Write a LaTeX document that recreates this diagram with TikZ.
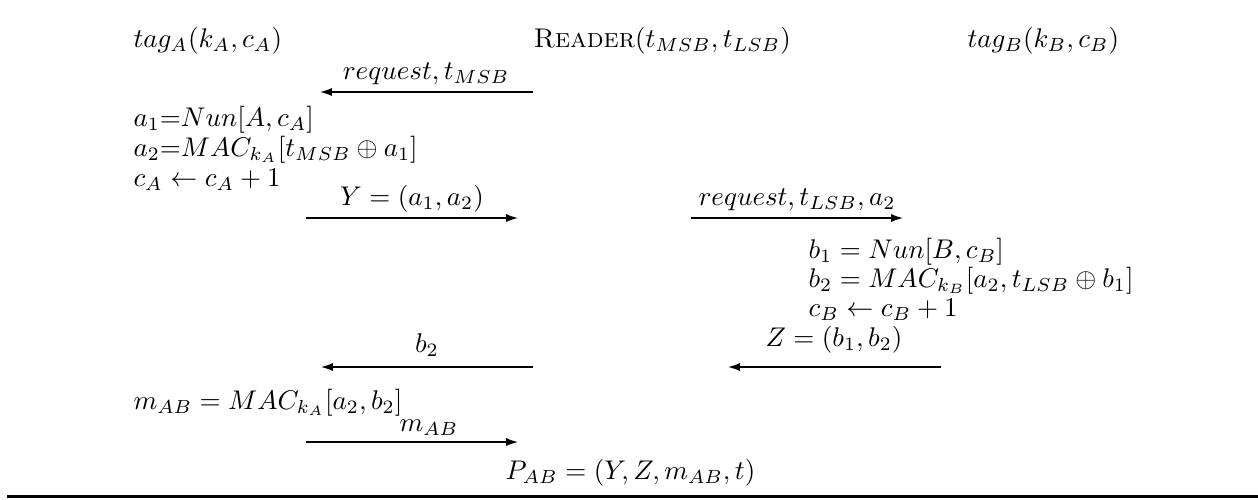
\documentclass[tikz,border=0pt]{standalone}
\usetikzlibrary{arrows.meta, positioning}

\begin{document}
\begin{tikzpicture}[
    x=0.37pt, y=-0.37pt,
    party/.style={inner sep=0pt, anchor=base west},
    calc/.style={inner sep=0pt, anchor=base west},
    lbl/.style={inner sep=0pt, anchor=base},
    msg/.style={-{Latex[length=4.4pt,width=3pt]}, line width=0.5pt},
]
\useasboundingbox (0,0) rectangle (1258,499);

% ---- parties ----
\node (tagA)   [party] at (133,47) {$tag_A(k_A,c_A)$};
\node (reader) [party] at (533,47) {\textsc{Reader}$(t_{MSB},t_{LSB})$};
\node (tagB)   [party] at (967,47) {$tag_B(k_B,c_B)$};

% ---- reader -> tag A: request ----
\coordinate (reqAs) at (533,92);
\coordinate (reqAe) at (320,92);
\node (reqAlbl) [lbl] at (426,79) {$request, t_{MSB}$};
\draw[msg] (reqAs) -- (reqAe);

% ---- tag A computes ----
\node (a1) [calc] at (133,126) {$a_1{=}Nun[A,c_A]$};
\node (a2) [calc] at (133,156) {$a_2{=}MAC_{k_A}[t_{MSB}\oplus a_1]$};
\node (cA) [calc] at (133,186) {$c_A \leftarrow c_A+1$};

% ---- tag A -> reader: Y ----
\coordinate (Ys) at (306,218);
\coordinate (Ye) at (518,218);
\node (Ylbl) [lbl] at (412,205) {$Y=(a_1,a_2)$};
\draw[msg] (Ys) -- (Ye);

% ---- reader -> tag B: request ----
\coordinate (reqBs) at (691,218);
\coordinate (reqBe) at (903,218);
\node (reqBlbl) [lbl] at (797,205) {$request, t_{LSB}, a_2$};
\draw[msg] (reqBs) -- (reqBe);

% ---- tag B computes ----
\node (b1) [calc] at (808,258) {$b_1 = Nun[B,c_B]$};
\node (b2) [calc] at (808,287) {$b_2 = MAC_{k_B}[a_2,t_{LSB}\oplus b_1]$};
\node (cB) [calc] at (808,316) {$c_B \leftarrow c_B+1$};

% ---- tag B -> reader: Z ----
\coordinate (Zs) at (941,367);
\coordinate (Ze) at (728,367);
\node (Zlbl) [lbl] at (834,346) {$Z=(b_1,b_2)$};
\draw[msg] (Zs) -- (Ze);

% ---- reader -> tag A: b2 ----
\coordinate (fwds) at (533,367);
\coordinate (fwde) at (321,367);
\node (fwdlbl) [lbl] at (427,352) {$b_2$};
\draw[msg] (fwds) -- (fwde);

% ---- tag A -> reader: m_AB ----
\node (mAB) [calc] at (133,409) {$m_{AB}=MAC_{k_A}[a_2,b_2]$};
\coordinate (ms) at (306,442);
\coordinate (me) at (518,442);
\node (mlbl) [lbl] at (429,431) {$m_{AB}$};
\draw[msg] (ms) -- (me);

% ---- proof ----
\node (PAB) [calc] at (505,479) {$P_{AB}=(Y,Z,m_{AB},t)$};

\coordinate (ruleL) at (7,496);
\coordinate (ruleR) at (1258,496);
\draw[line width=1.1pt] (ruleL) -- (ruleR);

\end{tikzpicture}
\end{document}
